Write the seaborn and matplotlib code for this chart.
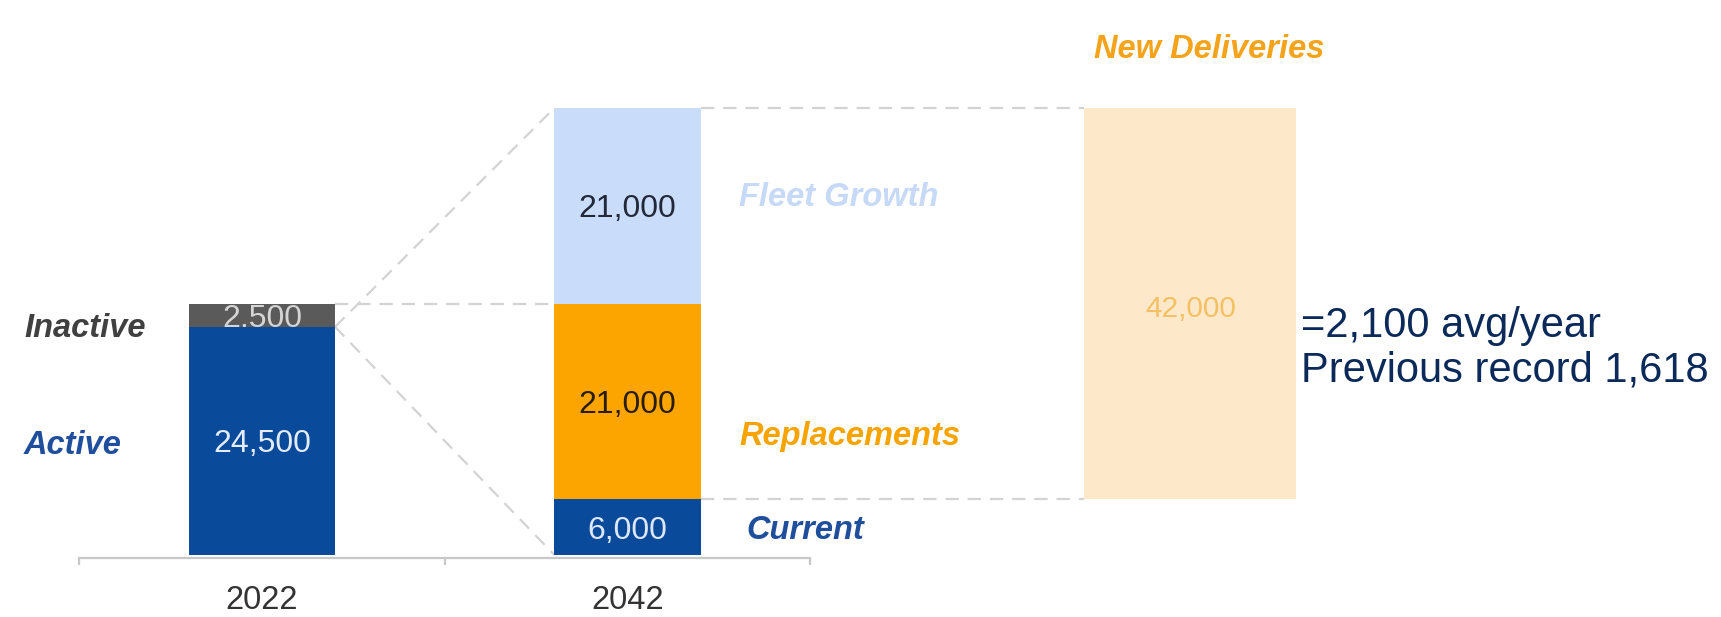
import numpy as np
import matplotlib
matplotlib.use("Agg")
import matplotlib.pyplot as plt
from matplotlib.transforms import Bbox, TransformedBbox
import seaborn as sns

# ---------------- data ----------------
years = ["2022", "2042"]
segments_2022 = ["Active", "Inactive"]
values_2022 = [24500, 2500]
segments_2042 = ["Current", "Replacements", "Fleet Growth"]
values_2042 = [6000, 21000, 21000]
new_deliveries_label = "New Deliveries"
new_deliveries_value = 42000
note_lines = ["=2,100 avg/year", "Previous record 1,618"]

# ---------------- style ----------------
sns.set_style("white")
plt.rcParams["font.family"] = ["Liberation Sans", "DejaVu Sans"]

seg_colors = {"Active": "#0a4a9b", "Inactive": "#5a5a5a", "Current": "#0a4a9b",
              "Replacements": "#fca500", "Fleet Growth": "#c9dcfa"}
value_colors = {"Active": "#e3ecf8", "Inactive": "#d5d5d5", "Current": "#dce8f8",
                "Replacements": "#2a1d08", "Fleet Growth": "#232838"}
label_colors = {"Active": "#1f4f9c", "Inactive": "#404040", "Current": "#1f4f9c",
                "Replacements": "#f7a400", "Fleet Growth": "#c6d9f6"}
new_color = "#fde9c9"
new_text_color = "#f5c063"
new_label_color = "#f5a31a"
note_color = "#0b2a5a"
line_color = "#d3d3d3"
axis_color = "#c8c8c8"

BAR_W = 0.4
NEW_X = 2.54
NEW_W = 0.58
VAL_FS = 23
LAB_FS = 23.5

fig = plt.figure(figsize=(17.21, 6.17), dpi=100)
ax = fig.add_axes([0, 0, 1, 1])


def draw_stack(xpos, names, vals):
    bottoms = np.concatenate([[0], np.cumsum(vals)[:-1]])
    patches = {}
    for name, v, b in zip(names, vals, bottoms):
        n0 = len(ax.patches)
        sns.barplot(x=[xpos], y=[v], bottom=b, width=BAR_W, native_scale=True,
                    orient="x", color=seg_colors[name], saturation=1,
                    linewidth=0, errorbar=None, ax=ax)
        patches[name] = ax.patches[n0]
    return bottoms, patches


b22, p22 = draw_stack(0, segments_2022, values_2022)
b42, p42 = draw_stack(1, segments_2042, values_2042)

# new deliveries floating bar, starting on top of the current fleet
current_top = values_2042[0]
sns.barplot(x=[NEW_X], y=[new_deliveries_value], bottom=current_top, width=NEW_W,
            native_scale=True, orient="x", color=new_color, saturation=1,
            linewidth=0, errorbar=None, ax=ax)

# ---------------- connectors ----------------
total_2022 = sum(values_2022)
total_2042 = sum(values_2042)
active_top = values_2022[0]
repl_top = values_2042[0] + values_2042[1]
x_r22, x_l42, x_r42 = BAR_W / 2, 1 - BAR_W / 2, 1 + BAR_W / 2
x_lnew = NEW_X - NEW_W / 2
x_rnew = NEW_X + NEW_W / 2
lkw = dict(color=line_color, lw=1.6, dashes=(6, 4), zorder=0.5)
ax.plot([x_r22, x_l42], [total_2022, repl_top], **lkw)
ax.plot([x_r22, x_l42], [active_top, total_2042], **lkw)
ax.plot([x_r22, x_l42], [active_top, 0], **lkw)
ax.plot([x_r42, x_lnew], [total_2042, total_2042], **lkw)
ax.plot([x_r42, x_lnew], [current_top, current_top], **lkw)

# ---------------- value labels ----------------
def value_labels(xpos, names, vals, bottoms, patches):
    for name, v, b in zip(names, vals, bottoms):
        t = ax.text(xpos, b + v / 2, f"{v:,}", ha="center", va="center_baseline",
                    fontsize=VAL_FS, color=value_colors[name])
        bb = TransformedBbox(Bbox.from_extents(xpos - BAR_W / 2, b, xpos + BAR_W / 2, b + v),
                             ax.transData)
        t.set_clip_box(bb)
        t.set_clip_on(True)


value_labels(0, segments_2022, values_2022, b22, p22)
value_labels(1, segments_2042, values_2042, b42, p42)
ax.text(NEW_X, current_top + new_deliveries_value / 2 - 300, f"{new_deliveries_value:,}",
        ha="center", va="center_baseline", fontsize=21.5, color=new_text_color)

# ---------------- category labels ----------------
lab_kw = dict(fontsize=LAB_FS, fontweight="bold", fontstyle="italic", ha="left")
ax.text(-0.651, b22[1] - 150, segments_2022[1], va="center", color=label_colors["Inactive"], **lab_kw)
ax.text(-0.651, values_2022[0] / 2 - 150, segments_2022[0], va="center_baseline",
        color=label_colors["Active"], **lab_kw)
ax.text(1.305, b42[2] + values_2042[2] / 2, segments_2042[2], va="baseline",
        color=label_colors["Fleet Growth"], **lab_kw)
ax.text(1.305, 11800, segments_2042[1], va="baseline",
        color=label_colors["Replacements"], **lab_kw)
ax.text(1.324, values_2042[0] / 2, segments_2042[0], va="center_baseline",
        color=label_colors["Current"], **lab_kw)
ax.text(x_lnew + 0.025, total_2042 + 6300, new_deliveries_label, va="center",
        color=new_label_color, **lab_kw)

ax.text(x_rnew + 0.014, 22200, "\n".join(note_lines), ha="left", va="center",
        fontsize=30, color=note_color, linespacing=1.14)

# ---------------- axes ----------------
ax.set_xlim(-0.7168, 3.9918)
ax.set_ylim(-6658, 59597)
for s in ["top", "right", "left"]:
    ax.spines[s].set_visible(False)
ax.spines["bottom"].set_position(("data", -322))
ax.spines["bottom"].set_bounds(-0.5, 1.5)
ax.spines["bottom"].set_color(axis_color)
ax.spines["bottom"].set_linewidth(1.6)
ax.set_xticks([0, 1], years)
ax.set_xticks([-0.5, 0.5, 1.5], minor=True)
ax.tick_params(axis="x", which="both", bottom=True)
ax.tick_params(axis="x", which="major", length=0, pad=19.5, labelsize=23.5,
               labelcolor="#333333")
ax.tick_params(axis="x", which="minor", length=5, width=1.6, color=axis_color,
               direction="out")
ax.set_yticks([])
ax.set_xlabel("")
ax.set_ylabel("")
ax.patch.set_alpha(0)

fig.savefig("out.png", dpi=100, facecolor="white")
